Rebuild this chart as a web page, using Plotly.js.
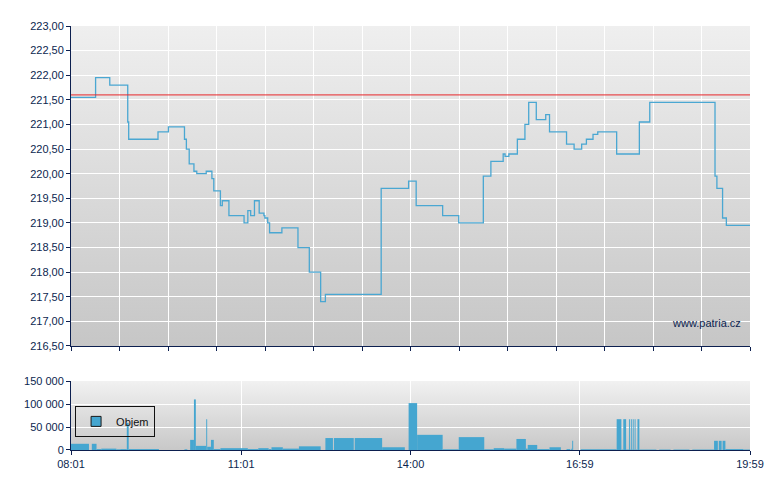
<!DOCTYPE html>
<html>
<head>
<meta charset="utf-8">
<script src="https://cdn.plot.ly/plotly-3.0.1.min.js"></script>
<style>html,body{margin:0;padding:0;background:#fff;}#chart{width:780px;height:490px;}</style>
</head>
<body>
<div id="chart"></div>
<script>
// ---- data ----
const day = '2024-01-01 ';
const sessionStart = '08:01';
const sessionEnd = '19:59';
const referencePrice = 221.60;

const priceTimes = ['08:01','08:27','08:42','09:01','09:02','09:33','09:44','10:01','10:03','10:06','10:11','10:14','10:24','10:30','10:32','10:39','10:41','10:48','11:04','11:08','11:11','11:15','11:20','11:25','11:26','11:29','11:31','11:44','12:01','12:13','12:25','12:30','13:29','13:58','14:06','14:34','14:51','15:17','15:25','15:38','15:40','15:44','15:53','16:01','16:05','16:13','16:23','16:27','16:45','16:53','17:01','17:06','17:13','17:18','17:38','18:02','18:07','18:13','19:19','19:22','19:24','19:30','19:34','19:59'];
const prices = [221.55,221.95,221.80,221.05,220.70,220.85,220.95,220.70,220.50,220.20,220.05,220.00,220.05,219.90,219.65,219.35,219.45,219.15,219.00,219.25,219.15,219.45,219.20,219.15,219.10,219.00,218.80,218.90,218.50,218.00,217.40,217.55,219.70,219.85,219.35,219.15,219.00,219.95,220.25,220.40,220.35,220.40,220.70,221.00,221.45,221.10,221.20,220.85,220.60,220.50,220.60,220.70,220.80,220.85,220.40,221.05,221.05,221.45,221.45,219.95,219.70,219.10,218.95,218.95];

const volTimes = ['08:01','08:20','08:23','08:28','08:33','08:49','08:53','09:00','09:02','09:34','10:01','10:04','10:07','10:11','10:13','10:24','10:25','10:29','10:32','10:39','11:08','11:19','11:30','11:33','11:45','12:02','12:25','12:30','12:38','12:39','13:00','13:01','13:30','13:54','13:58','14:07','14:34','14:51','15:18','15:28','15:39','15:52','16:02','16:04','16:14','16:27','16:39','16:45','16:49','16:50','16:51','16:52','17:00','17:38','17:43','17:45','17:48','17:51','17:52','17:53','17:54','17:55','17:56','17:57','17:58','18:00','18:02','18:20','18:23','18:35','18:38','18:55','18:58','19:21','19:25','19:26','19:29','19:30','19:33','19:52'];
const volumes = [13500,0,13500,2000,3000,1500,2000,59000,2000,0,1500,0,22000,110000,9000,67000,7000,22000,2000,4000,2000,4000,2000,6000,3000,8000,0,26000,0,26000,0,26000,6000,0,102000,33000,1500,28000,1500,4000,3000,24000,3000,11000,2000,6000,0,2000,0,3000,20000,0,1500,67000,1000,67000,1000,67000,1000,67000,1000,67000,1000,67000,1000,67000,1000,0,1000,0,1000,0,1000,20000,0,20000,0,20000,2000,1000];

const xTickVals = ['08:01','11:01','14:00','16:59','19:59'];
const yTickVals = [216.5,217,217.5,218,218.5,219,219.5,220,220.5,221,221.5,222,222.5,223];
const volTickVals = [0,50000,100000,150000];

// ---- helpers ----
const navy = '#0c1f4f';
const lineColor = '#4aa7d2';
const barColor = '#45a6d0';
const toDate = t => day + t;
const ms = t => { const p = t.split(':'); return (+p[0]*60 + +p[1]) * 60000; };

const volStart = volTimes.map(toDate);
const volWidth = volTimes.map((t, i) => ms(i + 1 < volTimes.length ? volTimes[i+1] : sessionEnd) - ms(t));

function gradient(c1, c2) {
  const svg = '<svg xmlns="http://www.w3.org/2000/svg" width="10" height="100" viewBox="0 0 10 100" preserveAspectRatio="none">' +
    '<defs><linearGradient id="g" x1="0" y1="0" x2="0" y2="1"><stop offset="0" stop-color="' + c1 + '"/><stop offset="1" stop-color="' + c2 + '"/></linearGradient></defs>' +
    '<rect x="0" y="0" width="10" height="100" fill="url(#g)"/></svg>';
  return 'data:image/svg+xml;charset=utf-8,' + encodeURIComponent(svg);
}

const topDomain = [0.2453, 1];
const botDomain = [0, 0.1627];
const xRange = [toDate(sessionStart), toDate(sessionEnd)];
const gridStep = (ms(sessionEnd) - ms(sessionStart)) / 14;

const traces = [
  {
    type: 'scatter', mode: 'lines', x: priceTimes.map(toDate), y: prices,
    line: {color: lineColor, width: 1.3, shape: 'hv'},
    xaxis: 'x', yaxis: 'y', showlegend: false, hoverinfo: 'skip'
  },
  {
    type: 'bar', x: volStart, y: volumes, width: volWidth, offset: 0,
    marker: {color: barColor, line: {width: 0}},
    xaxis: 'x2', yaxis: 'y2', showlegend: false, name: 'Objem', hoverinfo: 'skip'
  },
  {
    type: 'scatter', mode: 'markers', x: [null], y: [null], name: 'Objem',
    marker: {symbol: 'square', size: 10, color: barColor, line: {color: '#1a1a1a', width: 1}},
    xaxis: 'x2', yaxis: 'y2', showlegend: true, hoverinfo: 'skip'
  }
];

const axisCommon = {
  showline: true, linecolor: navy, linewidth: 1,
  ticks: 'outside', ticklen: 4, tickcolor: navy, tickwidth: 1,
  showgrid: true, gridcolor: '#ffffff', gridwidth: 1,
  zeroline: false, fixedrange: true,
  tickfont: {family: 'Liberation Sans, Arial, sans-serif', size: 11, color: navy}
};

const layout = {
  width: 780, height: 490,
  margin: {l: 71, r: 30, t: 26, b: 40, pad: 0},
  paper_bgcolor: '#ffffff',
  plot_bgcolor: 'rgba(0,0,0,0)',
  separators: ', ',
  font: {family: 'Liberation Sans, Arial, sans-serif', size: 11, color: navy},
  showlegend: true,
  legend: {
    x: 0.006, y: 0.104, xanchor: 'left', yanchor: 'top',
    bordercolor: '#111111', borderwidth: 1, bgcolor: 'rgba(0,0,0,0)',
    font: {size: 11, color: '#111111'}, itemwidth: 30
  },
  xaxis: Object.assign({}, axisCommon, {
    type: 'date', domain: [0, 1], anchor: 'y', range: xRange,
    tickmode: 'linear', tick0: toDate(sessionStart), dtick: gridStep,
    showticklabels: false
  }),
  yaxis: Object.assign({}, axisCommon, {
    domain: topDomain, anchor: 'x', range: [216.5, 223],
    tickmode: 'array', tickvals: yTickVals, tickformat: '.2f'
  }),
  xaxis2: Object.assign({}, axisCommon, {
    type: 'date', domain: [0, 1], anchor: 'y2', range: xRange,
    tickmode: 'array', tickvals: xTickVals.map(toDate), ticktext: xTickVals
  }),
  yaxis2: Object.assign({}, axisCommon, {
    domain: botDomain, anchor: 'x2', range: [0, 150000],
    tickmode: 'array', tickvals: volTickVals, tickformat: ',d'
  }),
  images: [
    {source: gradient('#efefef', '#c6c6c6'), xref: 'paper', yref: 'paper',
     x: 0, y: topDomain[1], sizex: 1, sizey: topDomain[1] - topDomain[0],
     xanchor: 'left', yanchor: 'top', sizing: 'stretch', layer: 'below'},
    {source: gradient('#f1f1f1', '#c8c8c8'), xref: 'paper', yref: 'paper',
     x: 0, y: botDomain[1], sizex: 1, sizey: botDomain[1] - botDomain[0],
     xanchor: 'left', yanchor: 'top', sizing: 'stretch', layer: 'below'}
  ],
  shapes: [
    {type: 'line', xref: 'paper', yref: 'y', x0: 0, x1: 1, y0: referencePrice, y1: referencePrice,
     line: {color: '#e8262a', width: 1}, layer: 'above'}
  ],
  annotations: [
    {text: 'www.patria.cz', xref: 'paper', yref: 'paper', x: 0.9897, y: 0.2995,
     xanchor: 'right', yanchor: 'middle', showarrow: false,
     font: {family: 'Liberation Sans, Arial, sans-serif', size: 11, color: navy}}
  ]
};

Plotly.newPlot('chart', traces, layout, {displayModeBar: false, staticPlot: true});
</script>
</body>
</html>
